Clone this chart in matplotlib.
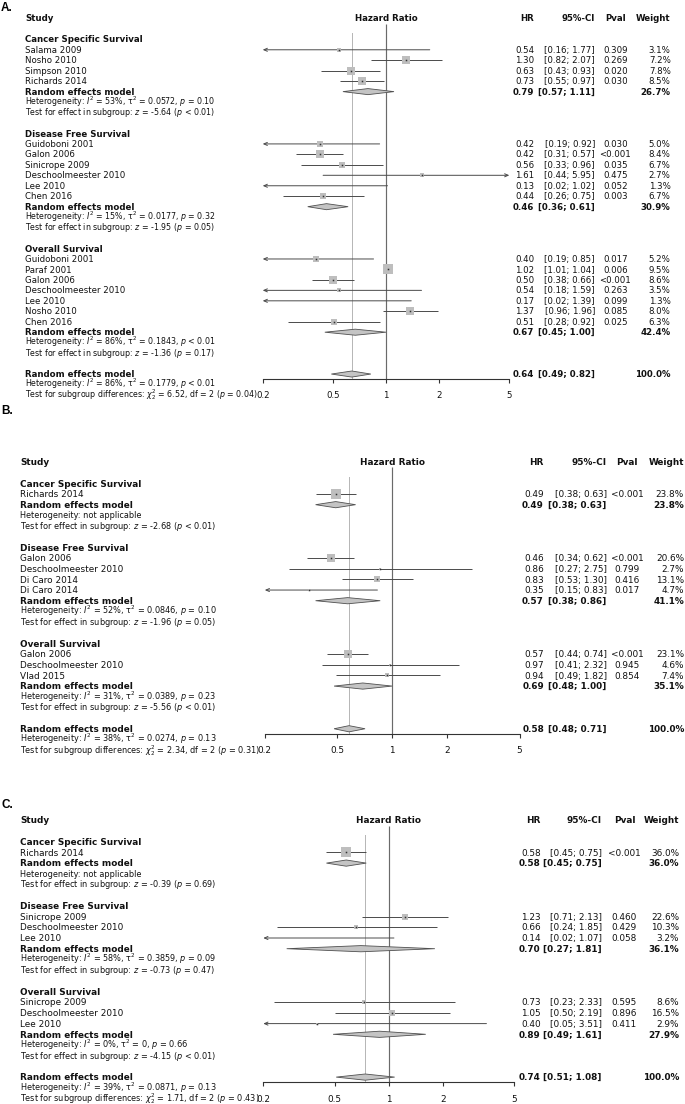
import matplotlib
matplotlib.use("Agg")
import matplotlib.pyplot as plt
from matplotlib.transforms import blended_transform_factory
from matplotlib.ticker import NullLocator, FixedLocator, FixedFormatter

W, H = 685, 1104
plt.rcParams['font.family'] = ['DejaVu Sans']
plt.rcParams['mathtext.fontset'] = 'dejavusans'

# ------------------------------------------------------------------ data
TICKS = [0.2, 0.5, 1, 2, 5]
TICK_LABELS = ["0.2", "0.5", "1", "2", "5"]
GROUP_NAMES = ["Cancer Specific Survival", "Disease Free Survival", "Overall Survival"]

# ---- panel A
A_CSS_study = ["Salama 2009", "Nosho 2010", "Simpson 2010", "Richards 2014"]
A_CSS_hr = [0.54, 1.30, 0.63, 0.73]
A_CSS_lo = [0.16, 0.82, 0.43, 0.55]
A_CSS_hi = [1.77, 2.07, 0.93, 0.97]
A_CSS_p = ["0.309", "0.269", "0.020", "0.030"]
A_CSS_w = [3.1, 7.2, 7.8, 8.5]
A_CSS_re = [0.79, 0.57, 1.11, 26.7]
A_CSS_het = "Heterogeneity: $I^2$ = 53%, τ$^2$ = 0.0572, $p$ = 0.10"
A_CSS_test = "Test for effect in subgroup: $z$ = -5.64 ($p$ < 0.01)"

A_DFS_study = ["Guidoboni 2001", "Galon 2006", "Sinicrope 2009", "Deschoolmeester 2010", "Lee 2010", "Chen 2016"]
A_DFS_hr = [0.42, 0.42, 0.56, 1.61, 0.13, 0.44]
A_DFS_lo = [0.19, 0.31, 0.33, 0.44, 0.02, 0.26]
A_DFS_hi = [0.92, 0.57, 0.96, 5.95, 1.02, 0.75]
A_DFS_p = ["0.030", "<0.001", "0.035", "0.475", "0.052", "0.003"]
A_DFS_w = [5.0, 8.4, 6.7, 2.7, 1.3, 6.7]
A_DFS_re = [0.46, 0.36, 0.61, 30.9]
A_DFS_het = "Heterogeneity: $I^2$ = 15%, τ$^2$ = 0.0177, $p$ = 0.32"
A_DFS_test = "Test for effect in subgroup: $z$ = -1.95 ($p$ = 0.05)"

A_OS_study = ["Guidoboni 2001", "Paraf 2001", "Galon 2006", "Deschoolmeester 2010", "Lee 2010", "Nosho 2010", "Chen 2016"]
A_OS_hr = [0.40, 1.02, 0.50, 0.54, 0.17, 1.37, 0.51]
A_OS_lo = [0.19, 1.01, 0.38, 0.18, 0.02, 0.96, 0.28]
A_OS_hi = [0.85, 1.04, 0.66, 1.59, 1.39, 1.96, 0.92]
A_OS_p = ["0.017", "0.006", "<0.001", "0.263", "0.099", "0.085", "0.025"]
A_OS_w = [5.2, 9.5, 8.6, 3.5, 1.3, 8.0, 6.3]
A_OS_re = [0.67, 0.45, 1.00, 42.4]
A_OS_het = "Heterogeneity: $I^2$ = 86%, τ$^2$ = 0.1843, $p$ < 0.01"
A_OS_test = "Test for effect in subgroup: $z$ = -1.36 ($p$ = 0.17)"

A_ALL_re = [0.64, 0.49, 0.82, 100.0]
A_ALL_het = "Heterogeneity: $I^2$ = 86%, τ$^2$ = 0.1779, $p$ < 0.01"
A_ALL_test = r"Test for subgroup differences: $\chi^2_2$ = 6.52, df = 2 ($p$ = 0.04)"

# ---- panel B
B_CSS_study = ["Richards 2014"]
B_CSS_hr = [0.49]
B_CSS_lo = [0.38]
B_CSS_hi = [0.63]
B_CSS_p = ["<0.001"]
B_CSS_w = [23.8]
B_CSS_re = [0.49, 0.38, 0.63, 23.8]
B_CSS_het = "Heterogeneity: not applicable"
B_CSS_test = "Test for effect in subgroup: $z$ = -2.68 ($p$ < 0.01)"

B_DFS_study = ["Galon 2006", "Deschoolmeester 2010", "Di Caro 2014", "Di Caro 2014"]
B_DFS_hr = [0.46, 0.86, 0.83, 0.35]
B_DFS_lo = [0.34, 0.27, 0.53, 0.15]
B_DFS_hi = [0.62, 2.75, 1.30, 0.83]
B_DFS_p = ["<0.001", "0.799", "0.416", "0.017"]
B_DFS_w = [20.6, 2.7, 13.1, 4.7]
B_DFS_re = [0.57, 0.38, 0.86, 41.1]
B_DFS_het = "Heterogeneity: $I^2$ = 52%, τ$^2$ = 0.0846, $p$ = 0.10"
B_DFS_test = "Test for effect in subgroup: $z$ = -1.96 ($p$ = 0.05)"

B_OS_study = ["Galon 2006", "Deschoolmeester 2010", "Vlad 2015"]
B_OS_hr = [0.57, 0.97, 0.94]
B_OS_lo = [0.44, 0.41, 0.49]
B_OS_hi = [0.74, 2.32, 1.82]
B_OS_p = ["<0.001", "0.945", "0.854"]
B_OS_w = [23.1, 4.6, 7.4]
B_OS_re = [0.69, 0.48, 1.00, 35.1]
B_OS_het = "Heterogeneity: $I^2$ = 31%, τ$^2$ = 0.0389, $p$ = 0.23"
B_OS_test = "Test for effect in subgroup: $z$ = -5.56 ($p$ < 0.01)"

B_ALL_re = [0.58, 0.48, 0.71, 100.0]
B_ALL_het = "Heterogeneity: $I^2$ = 38%, τ$^2$ = 0.0274, $p$ = 0.13"
B_ALL_test = r"Test for subgroup differences: $\chi^2_2$ = 2.34, df = 2 ($p$ = 0.31)"

# ---- panel C
C_CSS_study = ["Richards 2014"]
C_CSS_hr = [0.58]
C_CSS_lo = [0.45]
C_CSS_hi = [0.75]
C_CSS_p = ["<0.001"]
C_CSS_w = [36.0]
C_CSS_re = [0.58, 0.45, 0.75, 36.0]
C_CSS_het = "Heterogeneity: not applicable"
C_CSS_test = "Test for effect in subgroup: $z$ = -0.39 ($p$ = 0.69)"

C_DFS_study = ["Sinicrope 2009", "Deschoolmeester 2010", "Lee 2010"]
C_DFS_hr = [1.23, 0.66, 0.14]
C_DFS_lo = [0.71, 0.24, 0.02]
C_DFS_hi = [2.13, 1.85, 1.07]
C_DFS_p = ["0.460", "0.429", "0.058"]
C_DFS_w = [22.6, 10.3, 3.2]
C_DFS_re = [0.70, 0.27, 1.81, 36.1]
C_DFS_het = "Heterogeneity: $I^2$ = 58%, τ$^2$ = 0.3859, $p$ = 0.09"
C_DFS_test = "Test for effect in subgroup: $z$ = -0.73 ($p$ = 0.47)"

C_OS_study = ["Sinicrope 2009", "Deschoolmeester 2010", "Lee 2010"]
C_OS_hr = [0.73, 1.05, 0.40]
C_OS_lo = [0.23, 0.50, 0.05]
C_OS_hi = [2.33, 2.19, 3.51]
C_OS_p = ["0.595", "0.896", "0.411"]
C_OS_w = [8.6, 16.5, 2.9]
C_OS_re = [0.89, 0.49, 1.61, 27.9]
C_OS_het = "Heterogeneity: $I^2$ = 0%, τ$^2$ = 0, $p$ = 0.66"
C_OS_test = "Test for effect in subgroup: $z$ = -4.15 ($p$ < 0.01)"

C_ALL_re = [0.74, 0.51, 1.08, 100.0]
C_ALL_het = "Heterogeneity: $I^2$ = 39%, τ$^2$ = 0.0871, $p$ = 0.13"
C_ALL_test = r"Test for subgroup differences: $\chi^2_2$ = 1.71, df = 2 ($p$ = 0.43)"


def grp(name, study, hr, lo, hi, p, w, re, het, test):
    return dict(name=name, study=study, hr=hr, lo=lo, hi=hi, p=p, w=w,
                re=re, het=het, test=test)


PANEL_A = [grp(GROUP_NAMES[0], A_CSS_study, A_CSS_hr, A_CSS_lo, A_CSS_hi, A_CSS_p, A_CSS_w, A_CSS_re, A_CSS_het, A_CSS_test),
           grp(GROUP_NAMES[1], A_DFS_study, A_DFS_hr, A_DFS_lo, A_DFS_hi, A_DFS_p, A_DFS_w, A_DFS_re, A_DFS_het, A_DFS_test),
           grp(GROUP_NAMES[2], A_OS_study, A_OS_hr, A_OS_lo, A_OS_hi, A_OS_p, A_OS_w, A_OS_re, A_OS_het, A_OS_test)]
PANEL_B = [grp(GROUP_NAMES[0], B_CSS_study, B_CSS_hr, B_CSS_lo, B_CSS_hi, B_CSS_p, B_CSS_w, B_CSS_re, B_CSS_het, B_CSS_test),
           grp(GROUP_NAMES[1], B_DFS_study, B_DFS_hr, B_DFS_lo, B_DFS_hi, B_DFS_p, B_DFS_w, B_DFS_re, B_DFS_het, B_DFS_test),
           grp(GROUP_NAMES[2], B_OS_study, B_OS_hr, B_OS_lo, B_OS_hi, B_OS_p, B_OS_w, B_OS_re, B_OS_het, B_OS_test)]
PANEL_C = [grp(GROUP_NAMES[0], C_CSS_study, C_CSS_hr, C_CSS_lo, C_CSS_hi, C_CSS_p, C_CSS_w, C_CSS_re, C_CSS_het, C_CSS_test),
           grp(GROUP_NAMES[1], C_DFS_study, C_DFS_hr, C_DFS_lo, C_DFS_hi, C_DFS_p, C_DFS_w, C_DFS_re, C_DFS_het, C_DFS_test),
           grp(GROUP_NAMES[2], C_OS_study, C_OS_hr, C_OS_lo, C_OS_hi, C_OS_p, C_OS_w, C_OS_re, C_OS_het, C_OS_test)]

# ------------------------------------------------------------------ style / geometry (pixels)
GEO_A = dict(letter="A.", letter_y=8.0, y0=18.4, s=10.46, x02=262.7, x5=509.3, lab=25.0,
             hrx=534.3, cix=595.0, px=615.3, wx=670.7, fs=6.2, fsh=5.65)
GEO_B = dict(letter="B.", letter_y=411.0, y0=462.0, s=10.67, x02=264.8, x5=519.5, lab=20.0,
             hrx=544.0, cix=606.7, px=627.0, wx=684.0, fs=6.4, fsh=5.85)
GEO_C = dict(letter="C.", letter_y=805.0, y0=820.3, s=10.70, x02=263.3, x5=514.0, lab=20.0,
             hrx=540.7, cix=601.7, px=624.5, wx=679.3, fs=6.4, fsh=5.85)

LINE_C = "#4a4a4a"
SQ_C = "#bebebe"
DIA_FILL = "#c4c4c4"
DIA_EDGE = "#505050"
REF_C = "#6a6a6a"
XMIN, XMAX = 0.2, 5

fig = plt.figure(figsize=(W / 100, H / 100), dpi=100)


def draw_panel(groups, overall_re, overall_het, overall_test, g):
    s = g['s']
    items = []
    r = 2
    for gr in groups:
        items.append(('head', r, gr, None)); r += 1
        for i in range(len(gr['study'])):
            items.append(('study', r, gr, i)); r += 1
        items.append(('re', r, gr, None)); r += 1
        items.append(('het', r, gr, None)); r += 1
        items.append(('test', r, gr, None)); r += 1
        r += 1
    re_row, het_row, test_row = r, r + 1, r + 2
    rmax = test_row
    axis_row = re_row + 0.5

    top_px = g['y0'] - 0.5 * s
    bot_px = g['y0'] + (rmax + 0.5) * s
    ax = fig.add_axes([g['x02'] / W, 1 - bot_px / H, (g['x5'] - g['x02']) / W, (bot_px - top_px) / H])
    ax.set_xscale('log')
    ax.set_xlim(XMIN, XMAX)
    ax.set_ylim(rmax + 0.5, -0.5)
    ax.patch.set_visible(False)
    for sp in ['top', 'left', 'right']:
        ax.spines[sp].set_visible(False)
    ax.spines['bottom'].set_position(('data', axis_row))
    ax.spines['bottom'].set_color('#333333')
    ax.spines['bottom'].set_linewidth(0.8)
    ax.xaxis.set_major_locator(FixedLocator(TICKS))
    ax.xaxis.set_major_formatter(FixedFormatter(TICK_LABELS))
    ax.xaxis.set_minor_locator(NullLocator())
    ax.set_yticks([])
    ax.tick_params(axis='x', direction='out', length=2.9, width=0.8, color='#333333',
                   labelsize=g['fs'], pad=5.8, labelcolor='#111111')

    trans = blended_transform_factory(fig.transFigure, ax.transData)

    def put(xpx, row, txt, ha='left', bold=False, size=None):
        size = size or g['fs']
        off = 0.36 * size * 100 / 72 / s
        ax.text(xpx / W, row + off, txt, transform=trans, ha=ha, va='baseline',
                fontsize=size, fontweight='bold' if bold else 'normal', color='#111111')

    # header
    put(g['lab'], 0, "Study", bold=True)
    ax.text(1, 0 + 0.36 * g['fs'] * 100 / 72 / s, "Hazard Ratio", ha='center', va='baseline',
            fontsize=g['fs'], fontweight='bold', color='#111111')
    put(g['hrx'], 0, "HR", ha='right', bold=True)
    put(g['cix'], 0, "95%-CI", ha='right', bold=True)
    put(g['px'], 0, "Pval", ha='center', bold=True)
    put(g['wx'], 0, "Weight", ha='right', bold=True)

    # reference lines
    ax.plot([1, 1], [0.5, axis_row], color=REF_C, lw=0.85, zorder=1, solid_capstyle='butt')
    ax.plot([overall_re[0]] * 2, [1.4, axis_row], color='#555555', lw=0.6,
            ls=(0, (1.2, 1.2)), zorder=1)

    dia_h = 0.29

    def diamond(est, lo, hi, row):
        ax.fill([lo, est, hi, est, lo], [row, row - dia_h, row, row + dia_h, row],
                facecolor=DIA_FILL, edgecolor=DIA_EDGE, lw=0.6, zorder=3, clip_on=False)

    wmax = max(max(gg['w']) for gg in groups)

    for kind, row, gr, i in items:
        if kind == 'head':
            put(g['lab'], row, gr['name'], bold=True)
        elif kind == 'study':
            hr, lo, hi, w = gr['hr'][i], gr['lo'][i], gr['hi'][i], gr['w'][i]
            put(g['lab'], row, gr['study'][i])
            put(g['hrx'], row, f"{hr:.2f}", ha='right')
            put(g['cix'], row, f"[{lo:.2f}; {hi:.2f}]", ha='right')
            put(g['px'], row, gr['p'][i], ha='center')
            put(g['wx'], row, f"{w:.1f}%", ha='right')
            l = max(lo, XMIN)
            h = min(hi, XMAX)
            if lo < XMIN or hi > XMAX:
                if lo < XMIN and hi > XMAX:
                    style, start, end = '<->', l, h
                elif lo < XMIN:
                    style, start, end = '->', h, XMIN
                else:
                    style, start, end = '->', l, XMAX
                ax.annotate('', xy=(end, row), xytext=(start, row),
                            arrowprops=dict(arrowstyle=style + ',head_length=0.5,head_width=0.22',
                                            lw=0.7, color=LINE_C, shrinkA=0, shrinkB=0,
                                            mutation_scale=5), zorder=2, annotation_clip=False)
            else:
                ax.plot([l, h], [row, row], color=LINE_C, lw=0.7, zorder=2, solid_capstyle='butt')
            if XMIN <= hr <= XMAX:
                side = 6.5 * (w / wmax) ** 0.75
                ax.scatter([hr], [row], s=side ** 2, marker='s', color=SQ_C, linewidths=0,
                           zorder=3, clip_on=False)
                ax.plot([hr], [row], marker='s', ms=1.1, color='#333333', mew=0, zorder=4)
        elif kind == 're':
            est, lo, hi, w = gr['re']
            put(g['lab'], row, "Random effects model", bold=True)
            put(g['hrx'], row, f"{est:.2f}", ha='right', bold=True)
            put(g['cix'], row, f"[{lo:.2f}; {hi:.2f}]", ha='right', bold=True)
            put(g['wx'], row, f"{w:.1f}%", ha='right', bold=True)
            diamond(est, lo, hi, row)
        elif kind == 'het':
            put(g['lab'], row, gr['het'], size=g['fsh'])
        elif kind == 'test':
            put(g['lab'], row, gr['test'], size=g['fsh'])

    est, lo, hi, w = overall_re
    put(g['lab'], re_row, "Random effects model", bold=True)
    put(g['hrx'], re_row, f"{est:.2f}", ha='right', bold=True)
    put(g['cix'], re_row, f"[{lo:.2f}; {hi:.2f}]", ha='right', bold=True)
    put(g['wx'], re_row, f"{w:.1f}%", ha='right', bold=True)
    diamond(est, lo, hi, re_row)
    put(g['lab'], het_row, overall_het, size=g['fsh'])
    put(g['lab'], test_row, overall_test, size=g['fsh'])

    fig.text(1 / W, 1 - g['letter_y'] / H, g['letter'], ha='left', va='center',
             fontsize=8.5, fontweight='bold', family=['Liberation Sans', 'DejaVu Sans'])


draw_panel(PANEL_A, A_ALL_re, A_ALL_het, A_ALL_test, GEO_A)
draw_panel(PANEL_B, B_ALL_re, B_ALL_het, B_ALL_test, GEO_B)
draw_panel(PANEL_C, C_ALL_re, C_ALL_het, C_ALL_test, GEO_C)

fig.savefig("out.png", dpi=100, facecolor='white')
